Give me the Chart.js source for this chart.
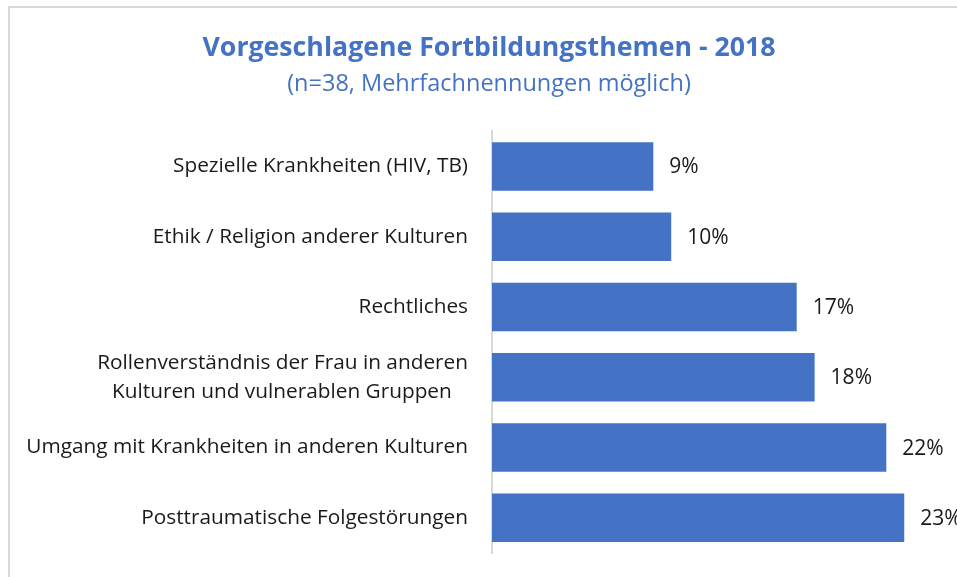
<!DOCTYPE html>
<html>
<head>
<meta charset="utf-8">
<script src="https://cdn.jsdelivr.net/npm/chart.js@4/dist/chart.umd.min.js"></script>
<style>
  html, body { margin: 0; padding: 0; background: #fff; overflow: hidden; }
  .chart-container {
    position: absolute; left: 8px; top: 6px;
    width: 958px; height: 571px;
    border-left: 2px solid #d9d9d9; border-top: 2px solid #d9d9d9;
  }
</style>
</head>
<body>
<div class="chart-container"><canvas id="graficoThemen"></canvas></div>
<script>
const kategorien = [
    'Spezielle Krankheiten (HIV, TB)',
    'Ethik / Religion anderer Kulturen',
    'Rechtliches',
    ['Rollenverständnis der Frau in anderen', 'Kulturen und vulnerablen Gruppen   '],
    'Umgang mit Krankheiten in anderen Kulturen',
    'Posttraumatische Folgestörungen'
];
const anteile = [9, 10, 17, 18, 22, 23];

const titel = 'Vorgeschlagene Fortbildungsthemen - 2018';
const untertitel = '(n=38, Mehrfachnennungen möglich)';

const schrift = '"Open Sans", sans-serif';
const blau = '#4472C4';

// Prozentwerte rechts neben den Balken
const werteLabels = {
    id: 'werteLabels',
    afterDatasetsDraw(chart) {
        const ctx = chart.ctx;
        const meta = chart.getDatasetMeta(0);
        ctx.save();
        ctx.font = '21px ' + schrift;
        ctx.fillStyle = '#1a1a1a';
        ctx.textAlign = 'left';
        ctx.textBaseline = 'middle';
        meta.data.forEach((bar, i) => {
            ctx.fillText(anteile[i] + '%', bar.x + 16, bar.y + 1);
        });
        ctx.restore();
    }
};

const ctx = document.getElementById('graficoThemen').getContext('2d');

new Chart(ctx, {
    type: 'bar',
    data: {
        labels: kategorien,
        datasets: [{
            data: anteile,
            backgroundColor: blau,
            categoryPercentage: 1,
            barPercentage: 0.69
        }]
    },
    options: {
        indexAxis: 'y',
        responsive: true,
        maintainAspectRatio: false,
        animation: false,
        layout: { padding: { top: 0, right: 10, bottom: 26, left: 10 } },
        scales: {
            x: {
                display: false,
                min: 0,
                max: 26
            },
            y: {
                afterFit(scale) { scale.width = 472; },
                grid: { display: false, drawTicks: true, tickLength: 24 },
                border: { display: true, color: '#d9d9d9', width: 2 },
                ticks: {
                    padding: 0,
                    color: '#1a1a1a',
                    font: { family: schrift, size: 20.8, lineHeight: 1.4 }
                }
            }
        },
        plugins: {
            legend: { display: false },
            tooltip: { enabled: false },
            title: {
                display: true,
                text: titel,
                color: blau,
                font: { family: schrift, size: 26.7, weight: 'bold' },
                padding: { top: 24, bottom: 0 }
            },
            subtitle: {
                display: true,
                text: untertitel,
                color: blau,
                font: { family: schrift, size: 23.5 },
                padding: { top: 6, bottom: 33 }
            }
        }
    },
    plugins: [werteLabels]
});
</script>
</body>
</html>
